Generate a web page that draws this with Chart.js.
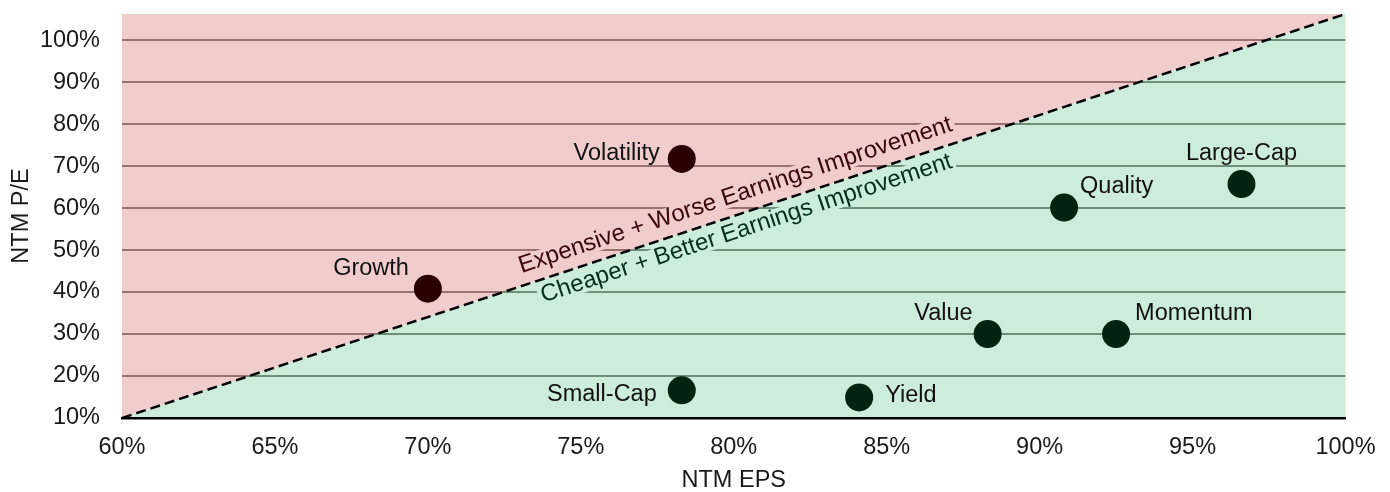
<!DOCTYPE html>
<html>
<head>
<meta charset="utf-8">
<script src="https://cdn.jsdelivr.net/npm/chart.js@4/dist/chart.umd.min.js"></script>
<style>
  html, body { margin: 0; padding: 0; background: #fff; }
  #wrap { width: 1390px; height: 492px; }
</style>
</head>
<body>
<div id="wrap"><canvas id="js--chart--1"></canvas></div>
<script>
// values (fractions, shown as %)
const redNames = ['Volatility', 'Growth'];
const redEps = [0.783, 0.700];
const redPe = [0.717, 0.408];

const greenNames = ['Quality', 'Large-Cap', 'Value', 'Momentum', 'Small-Cap', 'Yield'];
const greenEps = [0.908, 0.966, 0.883, 0.925, 0.783, 0.841];
const greenPe = [0.601, 0.657, 0.300, 0.300, 0.166, 0.149];

// dividing line between the two zones
const divideEps = [0.60, 1.00];
const dividePe = [0.10, 1.062];
const zoneTexts = ['Expensive + Worse Earnings Improvement', 'Cheaper + Better Earnings Improvement'];

const xTicks = [0.60, 0.65, 0.70, 0.75, 0.80, 0.85, 0.90, 0.95, 1.00];
const yTicks = [0.10, 0.20, 0.30, 0.40, 0.50, 0.60, 0.70, 0.80, 0.90, 1.00];

const FONT = "'Liberation Sans', Arial, sans-serif";
const FS = 23.5;
const redFill = '#f0cccc', greenFill = '#cdeddb';
const redGrid = '#9a7070', greenGrid = '#6f9078';
const redDot = '#2a0000', greenDot = '#02230f';

// where each name label sits next to its dot: dx, dy, align
const labelPos = {
    'Volatility': [-22, -5, 'right'],
    'Growth': [-19, -20, 'right'],
    'Quality': [16, -21, 'left'],
    'Large-Cap': [0, -31, 'center'],
    'Value': [-15, -20, 'right'],
    'Momentum': [19, -20, 'left'],
    'Small-Cap': [-25, 4, 'right'],
    'Yield': [26, -2, 'left']
};

function toPoints(xs, ys) {
    return xs.map((x, i) => ({x: x, y: ys[i]}));
}

function dividerPixels(chart) {
    const sx = chart.scales.x, sy = chart.scales.y;
    return [
        {x: sx.getPixelForValue(divideEps[0]), y: sy.getPixelForValue(dividePe[0])},
        {x: sx.getPixelForValue(divideEps[1]), y: sy.getPixelForValue(dividePe[1])}
    ];
}

// hard two-colour gradient split along the divider
function zoneGradient(chart, above, below) {
    const p = dividerPixels(chart);
    const dx = p[1].x - p[0].x, dy = p[1].y - p[0].y;
    const len = Math.hypot(dx, dy);
    const nx = dy / len, ny = -dx / len;
    const mx = (p[0].x + p[1].x) / 2, my = (p[0].y + p[1].y) / 2;
    const L = 2000;
    const g = chart.ctx.createLinearGradient(mx + nx * L, my + ny * L, mx - nx * L, my - ny * L);
    g.addColorStop(0, above);
    g.addColorStop(0.5, above);
    g.addColorStop(0.5, below);
    g.addColorStop(1, below);
    return g;
}

const zonePlugin = {
    id: 'zones',
    beforeDraw(chart) {
        const a = chart.chartArea, ctx = chart.ctx;
        ctx.save();
        ctx.fillStyle = zoneGradient(chart, redFill, greenFill);
        ctx.fillRect(a.left, a.top, a.right - a.left, a.bottom - a.top);
        ctx.restore();
    },
    afterDatasetsDraw(chart) {
        const ctx = chart.ctx;
        ctx.save();
        ctx.font = FS + 'px ' + FONT;
        ctx.textBaseline = 'middle';
        ctx.fillStyle = '#111';
        [0, 1].forEach(d => {
            const names = d === 0 ? redNames : greenNames;
            chart.getDatasetMeta(d).data.forEach((el, i) => {
                const pos = labelPos[names[i]];
                ctx.textAlign = pos[2];
                ctx.fillText(names[i], el.x + pos[0], el.y + pos[1]);
            });
        });

        // zone captions along the divider
        const p = dividerPixels(chart);
        const ang = Math.atan2(p[1].y - p[0].y, p[1].x - p[0].x);
        const t = (0.8025 - divideEps[0]) / (divideEps[1] - divideEps[0]);
        const cx = chart.scales.x.getPixelForValue(0.8025);
        const cy = chart.scales.y.getPixelForValue(dividePe[0] + t * (dividePe[1] - dividePe[0]));
        const offs = [-19, 16];
        const cols = ['#3a0808', '#07301a'];
        const bgs = [redFill, greenFill];
        ctx.font = '24px ' + FONT;
        ctx.textAlign = 'center';
        zoneTexts.forEach((txt, k) => {
            ctx.save();
            ctx.translate(cx, cy);
            ctx.rotate(ang);
            const w = ctx.measureText(txt).width;
            ctx.fillStyle = bgs[k];
            ctx.fillRect(-w / 2 - 3, offs[k] - 10, w + 6, 20);
            ctx.fillStyle = cols[k];
            ctx.fillText(txt, 0, offs[k]);
            ctx.restore();
        });
        ctx.restore();
    }
};

const pct = v => Math.round(v * 100) + '%';

const data = {
    datasets: [
        {
            label: 'Expensive',
            data: toPoints(redEps, redPe),
            backgroundColor: redDot,
            borderWidth: 0,
            pointRadius: 14,
            pointHoverRadius: 14
        },
        {
            label: 'Cheaper',
            data: toPoints(greenEps, greenPe),
            backgroundColor: greenDot,
            borderWidth: 0,
            pointRadius: 14,
            pointHoverRadius: 14
        },
        {
            label: 'Divider',
            data: toPoints(divideEps, dividePe),
            showLine: true,
            borderColor: '#000',
            borderWidth: 2.5,
            borderDash: [10, 5],
            pointRadius: 0,
            fill: false
        }
    ]
};

const config = {
    type: 'scatter',
    data: data,
    plugins: [zonePlugin],
    options: {
        responsive: true,
        maintainAspectRatio: false,
        animation: false,
        layout: { padding: { top: 12, right: 44.5, left: 0, bottom: 0 } },
        plugins: { legend: { display: false }, tooltip: { enabled: false } },
        scales: {
            x: {
                type: 'linear',
                min: 0.60,
                max: 1.00,
                afterFit: s => { s.height = 74; },
                afterBuildTicks: s => { s.ticks = xTicks.map(v => ({value: v})); },
                grid: { display: false, drawTicks: true, tickLength: 18, tickColor: 'rgba(0,0,0,0)' },
                border: { display: true, color: '#000', width: 2.5 },
                ticks: { callback: pct, padding: 0, color: '#1a1a1a', maxRotation: 0, autoSkip: false, font: { size: FS, family: FONT, lineHeight: 1 } },
                title: { display: true, text: 'NTM EPS', color: '#1a1a1a', padding: { top: 0, bottom: 0 }, font: { size: FS, family: FONT, lineHeight: 1 } }
            },
            y: {
                type: 'linear',
                min: 0.10,
                max: 1.062,
                afterFit: s => { s.width = 122; },
                afterBuildTicks: s => { s.ticks = yTicks.map(v => ({value: v})); },
                grid: {
                    drawTicks: true,
                    tickLength: 22,
                    tickColor: 'rgba(0,0,0,0)',
                    lineWidth: 2,
                    color: c => zoneGradient(c.chart, redGrid, greenGrid)
                },
                border: { display: false },
                ticks: { callback: pct, padding: 0, color: '#1a1a1a', font: { size: FS, family: FONT, lineHeight: 1 } },
                title: { display: true, text: 'NTM P/E', color: '#1a1a1a', padding: { top: 7, bottom: 0 }, font: { size: FS, family: FONT } }
            }
        }
    }
};

new Chart(document.getElementById('js--chart--1'), config);
</script>
</body>
</html>
